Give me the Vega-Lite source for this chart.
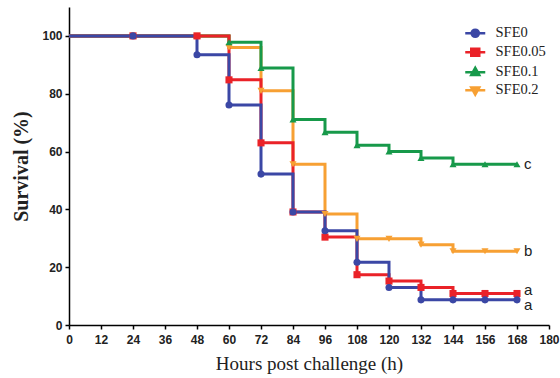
{
  "$schema": "https://vega.github.io/schema/vega-lite/v6.json",
  "width": 480,
  "height": 318,
  "autosize": {"type": "none"},
  "padding": {"left": 69, "top": 7, "right": 11, "bottom": 53},
  "background": "white",
  "config": {
    "view": {"stroke": null},
    "axis": {
      "domainColor": "black",
      "domainWidth": 1.5,
      "tickColor": "black",
      "tickWidth": 1.5,
      "tickSize": 4,
      "grid": false,
      "labelFont": "Liberation Sans",
      "labelFontWeight": "bold",
      "labelFontSize": 12,
      "labelColor": "#222",
      "titleColor": "#222"
    }
  },
  "datasets": {
    "surv": [
      {"t": 0, "s": 100, "g": "SFE0.2"}, {"t": 24, "s": 100, "g": "SFE0.2"}, {"t": 48, "s": 100, "g": "SFE0.2"},
      {"t": 60, "s": 96.0, "g": "SFE0.2"}, {"t": 72, "s": 81.0, "g": "SFE0.2"}, {"t": 84, "s": 55.6, "g": "SFE0.2"},
      {"t": 96, "s": 38.4, "g": "SFE0.2"}, {"t": 108, "s": 29.8, "g": "SFE0.2"}, {"t": 120, "s": 29.8, "g": "SFE0.2"},
      {"t": 132, "s": 27.8, "g": "SFE0.2"}, {"t": 144, "s": 25.5, "g": "SFE0.2"}, {"t": 156, "s": 25.5, "g": "SFE0.2"},
      {"t": 168, "s": 25.5, "g": "SFE0.2"},
      {"t": 0, "s": 100, "g": "SFE0.1"}, {"t": 24, "s": 100, "g": "SFE0.1"}, {"t": 48, "s": 100, "g": "SFE0.1"},
      {"t": 60, "s": 97.8, "g": "SFE0.1"}, {"t": 72, "s": 88.9, "g": "SFE0.1"}, {"t": 84, "s": 71.1, "g": "SFE0.1"},
      {"t": 96, "s": 66.7, "g": "SFE0.1"}, {"t": 108, "s": 62.2, "g": "SFE0.1"}, {"t": 120, "s": 60.0, "g": "SFE0.1"},
      {"t": 132, "s": 57.8, "g": "SFE0.1"}, {"t": 144, "s": 55.6, "g": "SFE0.1"}, {"t": 156, "s": 55.6, "g": "SFE0.1"},
      {"t": 168, "s": 55.6, "g": "SFE0.1"},
      {"t": 0, "s": 100, "g": "SFE0.05"}, {"t": 24, "s": 100, "g": "SFE0.05"}, {"t": 48, "s": 100, "g": "SFE0.05"},
      {"t": 60, "s": 84.8, "g": "SFE0.05"}, {"t": 72, "s": 63.0, "g": "SFE0.05"}, {"t": 84, "s": 39.1, "g": "SFE0.05"},
      {"t": 96, "s": 30.4, "g": "SFE0.05"}, {"t": 108, "s": 17.4, "g": "SFE0.05"}, {"t": 120, "s": 15.2, "g": "SFE0.05"},
      {"t": 132, "s": 13.0, "g": "SFE0.05"}, {"t": 144, "s": 10.9, "g": "SFE0.05"}, {"t": 156, "s": 10.9, "g": "SFE0.05"},
      {"t": 168, "s": 10.9, "g": "SFE0.05"},
      {"t": 0, "s": 100, "g": "SFE0"}, {"t": 24, "s": 100, "g": "SFE0"}, {"t": 48, "s": 93.5, "g": "SFE0"},
      {"t": 60, "s": 76.1, "g": "SFE0"}, {"t": 72, "s": 52.2, "g": "SFE0"}, {"t": 84, "s": 39.1, "g": "SFE0"},
      {"t": 96, "s": 32.6, "g": "SFE0"}, {"t": 108, "s": 21.7, "g": "SFE0"}, {"t": 120, "s": 13.0, "g": "SFE0"},
      {"t": 132, "s": 8.7, "g": "SFE0"}, {"t": 144, "s": 8.7, "g": "SFE0"}, {"t": 156, "s": 8.7, "g": "SFE0"},
      {"t": 168, "s": 8.7, "g": "SFE0"}
    ],
    "letters": [
      {"t": 168, "s": 55.6, "label": "c"},
      {"t": 168, "s": 25.5, "label": "b"},
      {"t": 168, "s": 12.2, "label": "a"},
      {"t": 168, "s": 6.9, "label": "a"}
    ]
  },
  "encoding": {
    "x": {
      "field": "t", "type": "quantitative",
      "scale": {"domain": [0, 180], "nice": false, "zero": true},
      "axis": {
        "values": [0, 12, 24, 36, 48, 60, 72, 84, 96, 108, 120, 132, 144, 156, 168, 180],
        "title": "Hours post challenge (h)",
        "titleFont": "Liberation Serif",
        "titleFontWeight": "normal",
        "titleFontSize": 19,
        "titlePadding": 9,
        "labelPadding": 5,
        "labelFlush": false,
        "labelOverlap": false
      }
    },
    "y": {
      "field": "s", "type": "quantitative",
      "scale": {"domain": [0, 110], "nice": false},
      "axis": {
        "values": [0, 20, 40, 60, 80, 100],
        "title": "Survival (%)",
        "titleFont": "Liberation Serif",
        "titleFontWeight": "bold",
        "titleFontSize": 20,
        "titlePadding": 10,
        "labelPadding": 3
      }
    },
    "color": {
      "field": "g", "type": "nominal",
      "scale": {
        "domain": ["SFE0", "SFE0.05", "SFE0.1", "SFE0.2"],
        "range": ["#3b47a5", "#ea2228", "#17994a", "#f7a033"]
      },
      "legend": {
        "title": null,
        "orient": "none",
        "legendX": 399,
        "legendY": 19,
        "padding": 0,
        "symbolSize": 64,
        "rowPadding": 1,
        "labelOffset": 13,
        "labelFont": "Liberation Serif",
        "labelFontSize": 14.5,
        "labelColor": "#222",
        "encode": {
          "symbols": {
            "update": {
              "shape": {"signal": "datum.value === 'SFE0' ? 'M-2.5,0H2.5M0.9,0A0.9,0.9 0 1 1 -0.9,0A0.9,0.9 0 1 1 0.9,0Z' : datum.value === 'SFE0.05' ? 'M-2.5,0H2.5M-1,-0.85H1V0.85H-1Z' : datum.value === 'SFE0.1' ? 'M-2.5,0H2.5M0,-1.1L1,0.7H-1Z' : 'M-2.5,0H2.5M0,1.1L1,-0.7H-1Z'"},
              "strokeWidth": {"value": 2.5},
              "opacity": {"value": 1}
            }
          }
        }
      }
    }
  },
  "layer": [
    {
      "data": {"name": "surv"},
      "mark": {"type": "line", "interpolate": "step-after", "strokeWidth": 3}
    },
    {
      "data": {"name": "surv"},
      "transform": [{"filter": "datum.t > 0"}],
      "mark": {"type": "point", "filled": true, "opacity": 1, "size": 50},
      "encoding": {
        "shape": {
          "condition": [
            {"test": "datum.g === 'SFE0'", "value": "circle"},
            {"test": "datum.g === 'SFE0.05'", "value": "square"},
            {"test": "datum.g === 'SFE0.1'", "value": "triangle-up"}
          ],
          "value": "triangle-down"
        }
      }
    },
    {
      "data": {"name": "letters"},
      "mark": {"type": "text", "align": "left", "baseline": "middle", "dx": 7, "font": "Liberation Sans", "fontSize": 15},
      "encoding": {
        "text": {"field": "label"},
        "color": {"value": "#222"}
      }
    }
  ]
}
